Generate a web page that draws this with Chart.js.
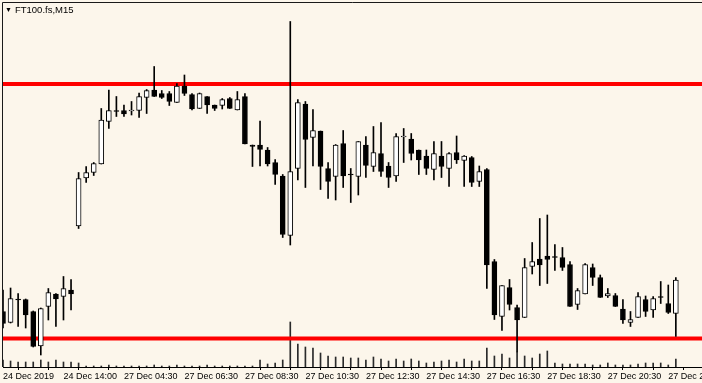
<!DOCTYPE html>
<html>
<head>
<meta charset="utf-8">
<script src="https://cdn.jsdelivr.net/npm/chart.js@4"></script>
<style>
  html, body { margin: 0; padding: 0; background: #fcf6eb; }
  #wrap { position: relative; width: 702px; height: 383px; overflow: hidden; background: #fcf6eb; }
  #title { position: absolute; left: 5px; top: 4px; font-family: "Liberation Sans", Arial, sans-serif; font-size: 9.5px; color: #000; white-space: nowrap; }
  #title .tri { font-size: 7px; margin-right: 3px; position: relative; top: -1px; }
</style>
</head>
<body>
<div id="wrap">
  <canvas id="c" width="702" height="383"></canvas>
  <div id="title"><span class="tri">▼</span>FT100.fs,M15</div>
</div>
<script>
// ---- data (FT100.fs, M15) ----
const openPrices = [7638.3,7636.1,7640.8,7640.7,7638.3,7631.4,7639.3,7641.8,7641.3,7642.6,
7655.4,7665.0,7666.1,7667.8,7676.3,7678.5,7678.5,7678.4,7678.5,7681.1,
7682.6,7681.9,7681.9,7680.1,7683.4,7681.7,7678.9,7681.3,7679.6,7679.5,
7680.9,7678.6,7681.3,7671.6,7671.6,7670.6,7668.1,7665.4,7653.5,7666.9,
7679.8,7673.1,7674.4,7666.9,7665.3,7671.9,7665.8,7665.3,7671.6,7667.3,
7669.9,7667.4,7665.4,7673.2,7672.8,7670.6,7669.4,7666.7,7669.4,7666.9,
7670.1,7668.5,7669.1,7664.3,7666.7,7648.3,7637.3,7643.1,7639.1,7637.1,
7647.3,7648.8,7649.4,7649.3,7649.1,7647.7,7639.7,7641.8,7647.1,7645.1,
7641.4,7641.5,7638.8,7636.1,7637.1,7640.7,7638.6,7641.3,7639.9,7637.9];

const highPrices = [7642.6,7643.0,7641.9,7640.8,7638.4,7639.0,7642.9,7641.9,7645.3,7644.7,
7666.1,7667.3,7668.1,7678.9,7682.6,7681.3,7679.6,7680.3,7682.0,7682.7,
7687.3,7682.5,7682.3,7683.9,7685.6,7681.9,7682.0,7681.3,7679.6,7680.9,
7681.1,7682.3,7681.9,7671.6,7676.4,7671.1,7668.7,7665.7,7696.3,7680.7,
7680.3,7678.7,7674.4,7668.1,7671.7,7674.5,7666.9,7672.3,7673.3,7675.3,
7676.1,7668.1,7673.9,7674.9,7673.9,7670.6,7670.6,7672.3,7672.3,7670.1,
7673.4,7669.5,7669.3,7667.4,7666.9,7648.7,7643.5,7644.7,7639.6,7648.9,
7652.1,7656.9,7657.6,7651.7,7651.1,7648.3,7642.9,7647.9,7647.8,7645.6,
7642.9,7641.9,7640.7,7638.3,7642.1,7641.4,7641.3,7644.3,7643.6,7645.1];

const lowPrices = [7635.0,7636.0,7635.3,7635.0,7631.2,7629.6,7636.6,7635.3,7636.6,7638.6,
7654.9,7664.1,7665.5,7667.8,7674.9,7677.3,7677.3,7677.6,7677.1,7677.9,
7681.3,7680.9,7679.5,7680.1,7681.5,7678.6,7678.9,7677.9,7678.5,7678.8,
7678.9,7678.6,7671.8,7667.3,7667.4,7667.4,7663.7,7653.1,7651.6,7664.6,
7663.1,7667.4,7662.7,7660.9,7660.6,7663.1,7660.1,7661.6,7665.1,7666.3,
7665.3,7663.1,7664.3,7668.1,7668.6,7665.7,7665.7,7664.6,7665.1,7663.3,
7667.9,7663.3,7663.3,7663.3,7642.9,7636.7,7634.5,7638.6,7630.2,7637.1,
7645.8,7643.5,7643.9,7646.5,7646.5,7639.3,7638.7,7641.8,7643.5,7641.1,
7641.1,7639.3,7635.9,7635.3,7637.1,7637.3,7637.1,7639.9,7637.9,7633.3];

const closePrices = [7635.9,7640.9,7640.6,7637.6,7631.3,7638.9,7642.1,7640.8,7642.9,7641.8,
7664.9,7666.1,7667.9,7676.6,7678.5,7678.3,7677.8,7678.6,7681.3,7682.5,
7681.3,7681.1,7680.3,7683.4,7681.9,7678.8,7681.9,7679.6,7678.9,7680.7,
7678.9,7680.7,7671.8,7671.3,7670.7,7667.8,7665.7,7653.7,7666.3,7680.1,
7672.7,7674.5,7667.3,7664.3,7671.6,7665.4,7665.6,7672.3,7667.5,7670.1,
7666.3,7665.1,7673.3,7673.4,7669.9,7668.6,7666.9,7669.9,7667.3,7669.9,
7668.6,7669.4,7664.1,7666.3,7647.6,7637.6,7643.5,7639.7,7636.6,7647.1,
7648.3,7647.6,7648.7,7649.1,7647.1,7639.3,7642.5,7647.7,7645.1,7641.1,
7641.9,7639.3,7636.6,7636.7,7641.3,7638.3,7640.9,7641.1,7638.1,7644.6];

const tickVolumes = [70,60,50,50,50,70,50,70,50,50,
40,10,10,10,20,10,10,10,10,10,
20,10,10,20,10,10,10,20,10,10,
10,10,10,10,70,30,40,70,450,230,
200,190,140,110,100,100,90,90,70,100,
80,60,80,60,80,60,40,50,60,70,
50,80,60,60,190,110,130,90,150,110,
90,130,160,40,30,30,30,30,20,20,
40,20,20,20,30,40,40,40,20,80];

const levelLines = [7683.8, 7632.9];

const tickLabels = ['24 Dec 2019','24 Dec 14:00','27 Dec 04:30','27 Dec 06:30','27 Dec 08:30',
  '27 Dec 10:30','27 Dec 12:30','27 Dec 14:30','27 Dec 16:30','27 Dec 18:30','27 Dec 20:30','27 Dec 22:30'];

// ---- build datasets ----
const idx = openPrices.map((_, i) => i);
const bodies = idx.map(i => ({ x: i, y: [openPrices[i], closePrices[i]] }));
const wicks = idx.map(i => ({ x: i, y: [lowPrices[i], highPrices[i]] }));
const vols = idx.map(i => ({ x: i, y: tickVolumes[i] }));
const bodyFill = idx.map(i => closePrices[i] >= openPrices[i] ? '#ffffff' : '#000000');

const X_MAX = 92.46;
const levelSets = levelLines.map(v => ({
  type: 'line',
  data: [{ x: 0, y: v }, { x: X_MAX, y: v }],
  borderColor: '#ff0000',
  borderWidth: 4,
  pointRadius: 0,
  yAxisID: 'y',
  order: 3
}));

const framePlugin = {
  id: 'frame',
  beforeDatasetsDraw(chart) {
    const { ctx, chartArea } = chart;
    ctx.save();
    ctx.strokeStyle = '#1a1a1a';
    ctx.lineWidth = 1;
    ctx.beginPath();
    ctx.moveTo(chartArea.left - 0.5, chartArea.bottom);
    ctx.lineTo(chartArea.left - 0.5, chartArea.top - 0.5);
    ctx.lineTo(chartArea.right, chartArea.top - 0.5);
    ctx.stroke();
    ctx.restore();
  }
};

new Chart(document.getElementById('c'), {
  data: {
    datasets: [
      {
        type: 'bar',
        data: bodies,
        backgroundColor: bodyFill,
        borderColor: '#000000',
        borderWidth: 1,
        borderSkipped: false,
        barThickness: 5,
        grouped: false,
        yAxisID: 'y',
        order: 0
      },
      {
        type: 'bar',
        data: wicks,
        backgroundColor: '#000000',
        borderWidth: 0,
        barThickness: 1,
        grouped: false,
        yAxisID: 'y',
        order: 1
      },
      ...levelSets,
      {
        type: 'bar',
        data: vols,
        backgroundColor: '#2a2a2a',
        borderWidth: 0,
        barThickness: 1,
        grouped: false,
        yAxisID: 'yVol',
        order: 4
      }
    ]
  },
  options: {
    responsive: false,
    animation: false,
    devicePixelRatio: 1,
    layout: { padding: { left: 3, top: 3, right: 0, bottom: 0 } },
    plugins: { legend: { display: false }, tooltip: { enabled: false }, title: { display: false } },
    scales: {
      x: {
        type: 'linear',
        min: 0,
        max: X_MAX,
        offset: false,
        afterBuildTicks(scale) {
          const t = [];
          for (let v = 0; v <= 88; v += 4) t.push({ value: v });
          scale.ticks = t;
        },
        afterFit(scale) {
          scale.height = 16;
          scale.paddingLeft = 0;
          scale.paddingRight = 0;
        },
        ticks: {
          autoSkip: false,
          maxRotation: 0,
          minRotation: 0,
          align: 'start',
          padding: 1,
          color: '#000',
          font: { family: 'Liberation Sans', size: 9 },
          callback: (value) => (value % 8 === 0 ? tickLabels[value / 8] : '')
        },
        grid: { display: true, drawOnChartArea: false, drawTicks: true, tickLength: 3, color: '#000', lineWidth: 1 },
        border: { display: true, color: '#000', width: 1 }
      },
      y: {
        display: false,
        min: 7627.2,
        max: 7700.0
      },
      yVol: {
        display: false,
        min: 0,
        max: 3640
      }
    }
  },
  plugins: [framePlugin]
});
</script>
</body>
</html>
